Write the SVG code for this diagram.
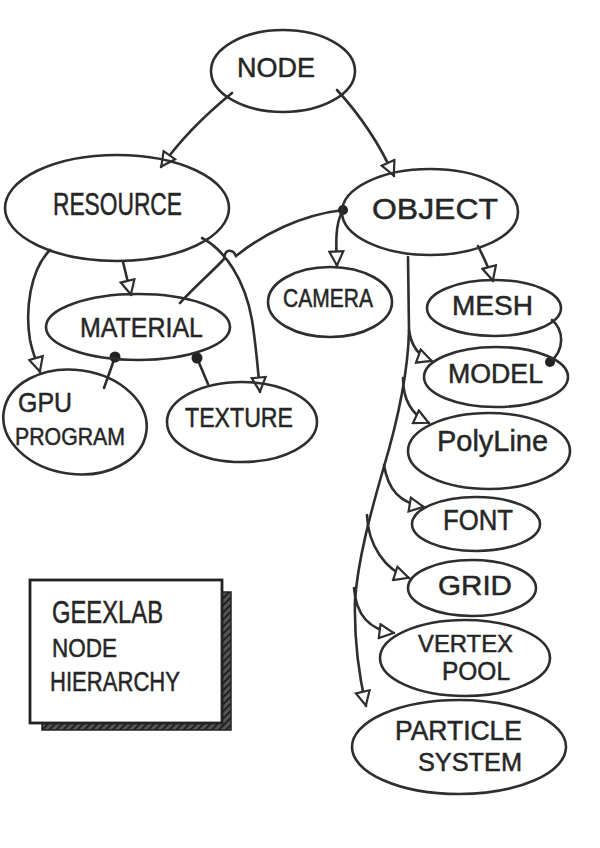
<svg xmlns="http://www.w3.org/2000/svg" width="600" height="848" viewBox="0 0 600 848">
<defs>
<style>
.n{fill:none;stroke:#2e2e2e;stroke-width:2.6}
.c{fill:none;stroke:#2e2e2e;stroke-width:2.6;stroke-linecap:round}
.a{marker-end:url(#tri)}
.t{font-family:"Liberation Sans",Arial,sans-serif;fill:#262626;stroke:#262626;stroke-width:0.5}
.d{fill:#222}
</style>
<marker id="tri" viewBox="0 0 17 17" refX="16" refY="8.5" markerWidth="17" markerHeight="17" markerUnits="userSpaceOnUse" orient="auto">
<path d="M1.5,1.5 L15.5,8.5 L1.5,15.5 Z" fill="#fff" stroke="#2e2e2e" stroke-width="2.2"/>
</marker>
<pattern id="hatch" width="5" height="5" patternUnits="userSpaceOnUse" patternTransform="rotate(45)">
<rect width="5" height="5" fill="#555"/>
<line x1="0" y1="0" x2="0" y2="5" stroke="#111" stroke-width="3"/>
</pattern>
</defs>
<rect width="600" height="848" fill="#fff"/>

<g id="connectors">
<path class="c a" d="M232,93 C205,115 180,140 161,167"/>
<path class="c a" d="M337,90 C360,115 380,145 394,176"/>
<path class="c a" d="M50,250 C30,270 25,310 30,340 C33,355 38,365 40,372"/>
<path class="c a" d="M123,262 L131,295"/>
<path class="c a" d="M202,238 C225,250 245,280 252,320 C256,345 258,370 260,392"/>
<path class="c" d="M343,210 C300,215 262,235 236,256 C233,249 225,248 224,259 C212,272 193,288 180,303"/>
<path class="c a" d="M342,212 C335,225 336,245 337,266"/>
<path class="c a" d="M478,246 C484,258 490,270 493,281"/>
<path class="c" d="M552,320 C564,330 565,350 550,362"/>
<path class="c" d="M115,357 L104,388"/>
<path class="c" d="M197,358 L208,384"/>
<path class="c a" d="M408,257 L409,330 C408,380 395,430 383,470 C370,515 358,560 355,600 C354,640 360,680 366,706"/>
<path class="c a" d="M409,330 C411,345 418,356 432,361"/>
<path class="c a" d="M403,378 C403,400 412,415 429,423"/>
<path class="c a" d="M384,465 C388,490 400,503 424,507"/>
<path class="c a" d="M367,515 C368,545 385,570 409,578"/>
<path class="c a" d="M354,588 C356,615 370,630 394,633"/>
<circle class="d" cx="343" cy="210" r="5"/>
<circle class="d" cx="550" cy="362" r="5"/>
<circle class="d" cx="115" cy="357" r="5.5"/>
<circle class="d" cx="197" cy="358" r="5.5"/>
</g>

<g id="node-node"><ellipse class="n" cx="283" cy="71" rx="72" ry="41"/><text class="t" x="237" y="77" font-size="28" textLength="78" lengthAdjust="spacingAndGlyphs">NODE</text></g>
<g id="node-resource"><ellipse class="n" cx="117" cy="208" rx="112" ry="53"/><text class="t" x="53" y="215" font-size="31" textLength="129" lengthAdjust="spacingAndGlyphs">RESOURCE</text></g>
<g id="node-object"><ellipse class="n" cx="430" cy="212" rx="88" ry="43"/><text class="t" x="372" y="219" font-size="30" textLength="126" lengthAdjust="spacingAndGlyphs">OBJECT</text></g>
<g id="node-camera"><ellipse class="n" cx="330" cy="302" rx="62" ry="35"/><text class="t" x="283" y="307" font-size="25" textLength="90" lengthAdjust="spacingAndGlyphs">CAMERA</text></g>
<g id="node-mesh"><ellipse class="n" cx="494" cy="308" rx="67" ry="28"/><text class="t" x="452" y="315" font-size="28" textLength="81" lengthAdjust="spacingAndGlyphs">MESH</text></g>
<g id="node-material"><ellipse class="n" cx="138" cy="327" rx="92" ry="33"/><text class="t" x="80" y="337" font-size="28" textLength="123" lengthAdjust="spacingAndGlyphs">MATERIAL</text></g>
<g id="node-model"><ellipse class="n" cx="496" cy="377" rx="72" ry="30"/><text class="t" x="448" y="383" font-size="27" textLength="95" lengthAdjust="spacingAndGlyphs">MODEL</text></g>
<g id="node-gpu-program"><ellipse class="n" cx="75" cy="422" rx="72" ry="52" transform="rotate(8 75 422)"/><text class="t" x="18" y="412" font-size="28" textLength="54" lengthAdjust="spacingAndGlyphs">GPU</text><text class="t" x="15" y="445" font-size="24" textLength="110" lengthAdjust="spacingAndGlyphs">PROGRAM</text></g>
<g id="node-texture"><ellipse class="n" cx="242" cy="422" rx="75" ry="40"/><text class="t" x="185" y="427" font-size="28" textLength="108" lengthAdjust="spacingAndGlyphs">TEXTURE</text></g>
<g id="node-polyline"><ellipse class="n" cx="489" cy="451" rx="81" ry="38"/><text class="t" x="437" y="451" font-size="30" textLength="111" lengthAdjust="spacingAndGlyphs">PolyLine</text></g>
<g id="node-font"><ellipse class="n" cx="476" cy="524" rx="64" ry="27"/><text class="t" x="443" y="530" font-size="29" textLength="70" lengthAdjust="spacingAndGlyphs">FONT</text></g>
<g id="node-grid"><ellipse class="n" cx="472" cy="588" rx="64" ry="28"/><text class="t" x="438" y="595" font-size="28" textLength="74" lengthAdjust="spacingAndGlyphs">GRID</text></g>
<g id="node-vertex-pool"><ellipse class="n" cx="465" cy="658" rx="85" ry="38"/><text class="t" x="418" y="652" font-size="24" textLength="95" lengthAdjust="spacingAndGlyphs">VERTEX</text><text class="t" x="442" y="680" font-size="25" textLength="68" lengthAdjust="spacingAndGlyphs">POOL</text></g>
<g id="node-particle-system"><ellipse class="n" cx="459" cy="747" rx="107" ry="47"/><text class="t" x="395" y="740" font-size="27" textLength="127" lengthAdjust="spacingAndGlyphs">PARTICLE</text><text class="t" x="418" y="771" font-size="26" textLength="104" lengthAdjust="spacingAndGlyphs">SYSTEM</text></g>

<g id="title-box">
<path d="M222,592 L231,592 L231,730 L42,730 L42,722 L222,722 Z" fill="url(#hatch)" stroke="#222" stroke-width="1.5"/>
<rect x="30" y="580" width="192" height="143" fill="#fff" stroke="#222" stroke-width="2.8"/>
<text class="t" x="52" y="623" font-size="32" textLength="111" lengthAdjust="spacingAndGlyphs">GEEXLAB</text>
<text class="t" x="52" y="657" font-size="26" textLength="65" lengthAdjust="spacingAndGlyphs">NODE</text>
<text class="t" x="50" y="691" font-size="28" textLength="130" lengthAdjust="spacingAndGlyphs">HIERARCHY</text>
</g>
</svg>
